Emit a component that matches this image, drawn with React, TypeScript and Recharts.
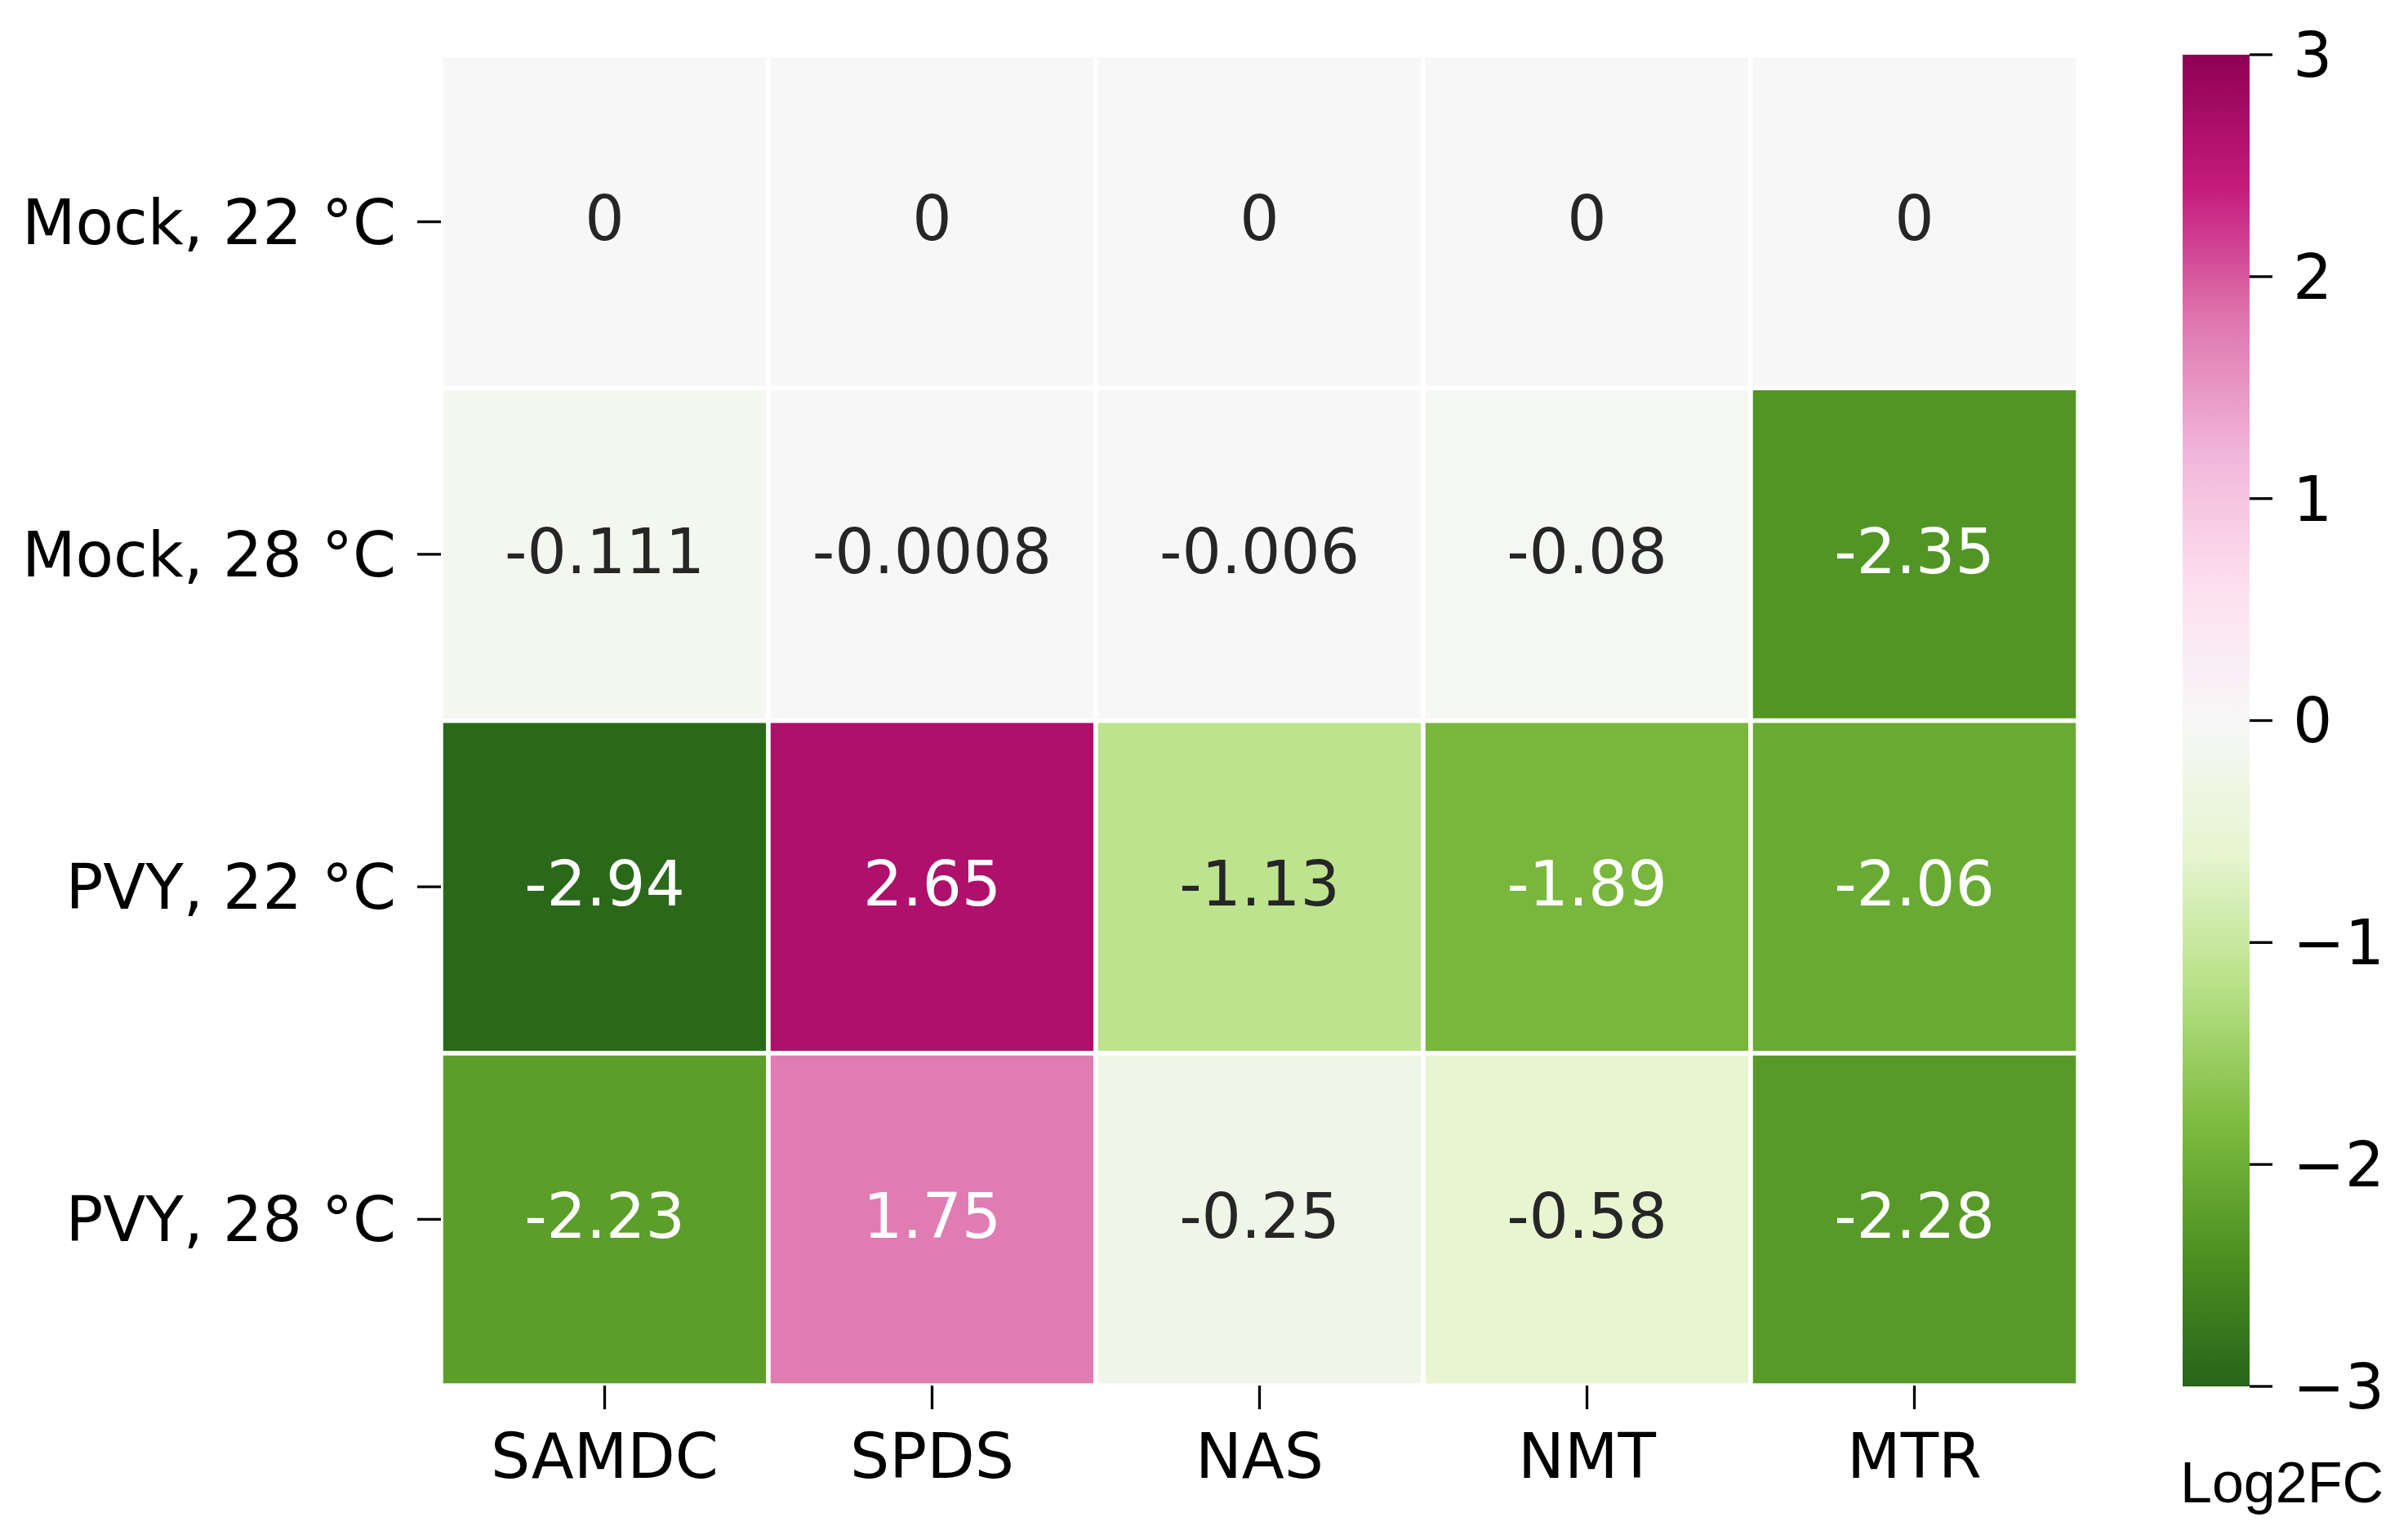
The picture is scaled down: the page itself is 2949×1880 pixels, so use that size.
import React from "react";
import { BarChart, Bar, XAxis, YAxis, Cell, LabelList } from "recharts";

// ---------- data ----------
const genes = ["SAMDC", "SPDS", "NAS", "NMT", "MTR"];
const conditions = ["Mock, 22 °C", "Mock, 28 °C", "PVY, 22 °C", "PVY, 28 °C"];
const mock22 = [0, 0, 0, 0, 0];
const mock28 = [-0.111, -0.0008, -0.006, -0.08, -2.35];
const pvy22 = [-2.94, 2.65, -1.13, -1.89, -2.06];
const pvy28 = [-2.23, 1.75, -0.25, -0.58, -2.28];
const rowValues = [mock22, mock28, pvy22, pvy28];
const colorbarTicks = [-3, -2, -1, 0, 1, 2, 3];
const VMIN = -3;
const VMAX = 3;
const colorbarLabel = "Log2FC";

// PiYG colormap anchors (matplotlib / ColorBrewer), used reversed: low = green
const PIYG = [
  "#8e0152", "#c51b7d", "#de77ae", "#f1b6da", "#fde0ef", "#f7f7f7",
  "#e6f5d0", "#b8e186", "#7fbc41", "#4d9221", "#276419",
];

const hexToRgb = (h: string) => [
  parseInt(h.slice(1, 3), 16),
  parseInt(h.slice(3, 5), 16),
  parseInt(h.slice(5, 7), 16),
];

function cmapRgb(v: number): number[] {
  let t = (VMAX - v) / (VMAX - VMIN);
  t = Math.max(0, Math.min(1, t));
  const pos = t * (PIYG.length - 1);
  const i = Math.min(PIYG.length - 2, Math.floor(pos));
  const f = pos - i;
  const a = hexToRgb(PIYG[i]);
  const b = hexToRgb(PIYG[i + 1]);
  return a.map((c, k) => c + (b[k] - c) * f);
}
const rgbStr = (c: number[]) =>
  `rgb(${Math.round(c[0])},${Math.round(c[1])},${Math.round(c[2])})`;
const cmap = (v: number) => rgbStr(cmapRgb(v));

function textColor(v: number) {
  const lin = cmapRgb(v).map((c) => {
    const s = c / 255;
    return s <= 0.03928 ? s / 12.92 : Math.pow((s + 0.055) / 1.055, 2.4);
  });
  const lum = 0.2126 * lin[0] + 0.7152 * lin[1] + 0.0722 * lin[2];
  return lum > 0.408 ? "#262626" : "#ffffff";
}

// chart table: one stacked unit segment per condition for each gene
const tableData = genes.map((g) => {
  const row: any = { gene: g };
  conditions.forEach((_, i) => {
    row[`r${i}`] = 1;
  });
  return row;
});
const colorbarData = [{ name: colorbarLabel, range: [VMIN, VMAX] }];

const FONT = "DejaVu Sans";
const FS = 76;

const makeLabel = (rowIdx: number) => (props: any) => {
  const { x, y, width, height, index } = props;
  const v = rowValues[rowIdx][index];
  return (
    <text
      x={x + width / 2}
      y={y + height / 2}
      dy="0.3em"
      textAnchor="middle"
      fontFamily={FONT}
      fontSize={FS}
      fill={textColor(v)}
    >
      {String(v)}
    </text>
  );
};

const fmtMinus = (v: number) => (v < 0 ? `\u2212${-v}` : `${v}`);

const CbLabelTick = (props: any) => {
  const { x, y } = props;
  return (
    <text
      x={x - 44}
      y={y + 134}
      textAnchor="start"
      fontFamily="Liberation Sans, Arial"
      fontSize={70}
      fill="#000"
    >
      {colorbarLabel}
    </text>
  );
};

export default function App() {
  const stackOrder = [3, 2, 1, 0]; // bottom row first
  return (
    <div
      style={{
        position: "absolute",
        left: 0,
        top: 0,
        width: 2949,
        height: 1880,
        background: "#fff",
        fontFamily: FONT,
      }}
    >
      <div style={{ position: "absolute", left: 0, top: 0 }}>
        <BarChart
          width={2600}
          height={1880}
          data={tableData}
          margin={{ top: 68, right: 55, left: 0, bottom: 0 }}
          barCategoryGap={0}
          barGap={0}
        >
          <XAxis
            dataKey="gene"
            type="category"
            height={183}
            interval={0}
            axisLine={false}
            tickSize={29}
            tickMargin={30}
            tickLine={{ stroke: "#000", strokeWidth: 3.3 }}
            tick={{ fill: "#000", fontSize: FS, fontFamily: FONT }}
          />
          <YAxis
            type="number"
            domain={[0, conditions.length]}
            ticks={[0.5, 1.5, 2.5, 3.5]}
            tickFormatter={(v: number) =>
              conditions[conditions.length - 1 - Math.floor(v)]
            }
            width={540}
            interval={0}
            axisLine={false}
            tickSize={29}
            tickMargin={26}
            tickLine={{ stroke: "#000", strokeWidth: 3.3 }}
            tick={{ fill: "#000", fontSize: FS, fontFamily: FONT }}
          />
          {stackOrder.map((ri) => (
            <Bar
              key={ri}
              dataKey={`r${ri}`}
              stackId="heat"
              isAnimationActive={false}
              stroke="#ffffff"
              strokeWidth={5.5}
            >
              {genes.map((g, j) => (
                <Cell key={g} fill={cmap(rowValues[ri][j])} />
              ))}
              <LabelList dataKey={`r${ri}`} content={makeLabel(ri)} />
            </Bar>
          ))}
        </BarChart>
      </div>

      <div style={{ position: "absolute", left: 2600, top: 0 }}>
        <BarChart
          width={349}
          height={1880}
          data={colorbarData}
          margin={{ top: 67, right: 0, left: 73, bottom: 0 }}
          barCategoryGap={0}
        >
          <defs>
            <linearGradient id="piygGrad" x1="0" y1="0" x2="0" y2="1">
              {PIYG.map((c, i) => (
                <stop key={i} offset={i / (PIYG.length - 1)} stopColor={c} />
              ))}
            </linearGradient>
          </defs>
          <XAxis
            dataKey="name"
            type="category"
            height={182}
            axisLine={false}
            tickLine={false}
            tick={<CbLabelTick />}
          />
          <YAxis
            orientation="right"
            type="number"
            domain={[VMIN, VMAX]}
            ticks={colorbarTicks}
            tickFormatter={fmtMinus}
            width={194}
            interval={0}
            axisLine={false}
            tickSize={28}
            tickMargin={25}
            tickLine={{ stroke: "#000", strokeWidth: 3.3 }}
            tick={{ fill: "#000", fontSize: FS, fontFamily: FONT, textAnchor: "start" }}
          />
          <Bar
            dataKey="range"
            fill="url(#piygGrad)"
            isAnimationActive={false}
          />
        </BarChart>
      </div>
    </div>
  );
}
